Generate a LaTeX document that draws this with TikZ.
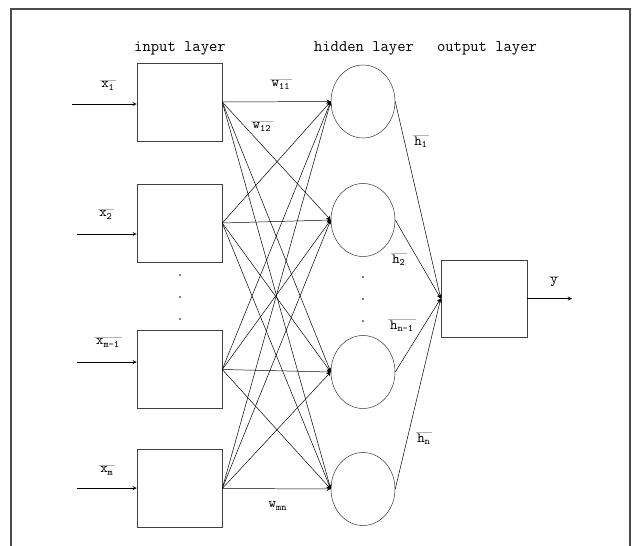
\documentclass[tikz,border=0pt]{standalone}
\usepackage{tikz}
\usetikzlibrary{shapes.geometric}

\tikzset{
  unit/.style={draw=black!75, minimum width=2.125cm, minimum height=1.95cm, inner sep=0pt},
  neuron/.style={draw=black!80, ellipse, minimum width=1.6cm, minimum height=1.825cm, inner sep=0pt},
  tag/.style={font=\fontsize{10}{12}\selectfont\ttfamily, inner sep=1pt,
    append after command={(\tikzlastnode.north west) edge[draw=black!30, line width=0.3pt] (\tikzlastnode.north east)}},
  plaintag/.style={font=\fontsize{10}{12}\selectfont\ttfamily, inner sep=1pt},
  title/.style={font=\fontsize{11.5}{13}\selectfont\ttfamily}
}

\begin{document}
\begin{tikzpicture}[>=stealth, x=0.025cm, y=-0.025cm, line width=0.35pt]
        \useasboundingbox (0,0) rectangle (632,546);
        \draw[line width=1.3pt, black!70] (11,546) -- (11,9) -- (630,9) -- (630,546);

        % layer titles
        \node[title] (tin) at (180,48) {input layer};
        \node[title] (thid) at (364,48) {hidden layer};
        \node[title] (tout) at (487,48) {output layer};

        % input layer
        \node[unit] (in1) at (179.5,102) {};
        \node[unit] (in2) at (179.5,223) {};
        \node[unit] (in3) at (179.5,369.5) {};
        \node[unit] (in4) at (179.5,488.5) {};
        \foreach \y in {275,297,319} \fill (180,\y) circle (0.6pt);

        % hidden layer
        \node[neuron] (hid1) at (363,101.5) {};
        \node[neuron] (hid2) at (363,220) {};
        \node[neuron] (hid3) at (363,372) {};
        \node[neuron] (hid4) at (363,489) {};
        \foreach \y in {277,299,321} \fill (363,\y) circle (0.6pt);

        % output layer
        \node[unit, minimum width=2.15cm, minimum height=1.925cm] (out) at (484,298.5) {};

        % inputs
        \coordinate (src1) at (72,104);
        \coordinate (src2) at (77,234);
        \coordinate (src3) at (77,362);
        \coordinate (src4) at (77,488);
        \foreach \i in {1,...,4}
            \draw[->] (src\i) -- (src\i -| in\i.west);
        \node[tag] (x1) at (108,86) {x\textsubscript{1}};
        \node[tag] (x2) at (106,215) {x\textsubscript{2}};
        \node[tag] (x3) at (108,343) {x\textsubscript{m-1}};
        \node[tag] (x4) at (107,471) {x\textsubscript{m}};

        % weights
        \foreach \i in {1,...,4}
            \foreach \j in {1,...,4}
                \draw[->] (in\i.east) -- (hid\j.west);
        \node[tag] (w11) at (281,85) {w\textsubscript{11}};
        \node[tag] (w12) at (262,127) {w\textsubscript{12}};
        \node[plaintag] (wmn) at (278,506) {w\textsubscript{mn}};

        % hidden to output
        \foreach \j in {1,...,4}
            \draw[->] (hid\j.east) -- (out.west);
        \node[tag] (lh1) at (421,142) {h\textsubscript{1}};
        \node[tag] (lh2) at (399,260) {h\textsubscript{2}};
        \node[tag] (lh3) at (402,326) {h\textsubscript{n-1}};
        \node[tag] (lh4) at (424,439) {h\textsubscript{n}};

        % output
        \coordinate (yend) at (572,298.5);
        \draw[->] (out.east) -- (yend);
        \node[tag] (ly) at (554,282) {y};
    \end{tikzpicture}
\end{document}
